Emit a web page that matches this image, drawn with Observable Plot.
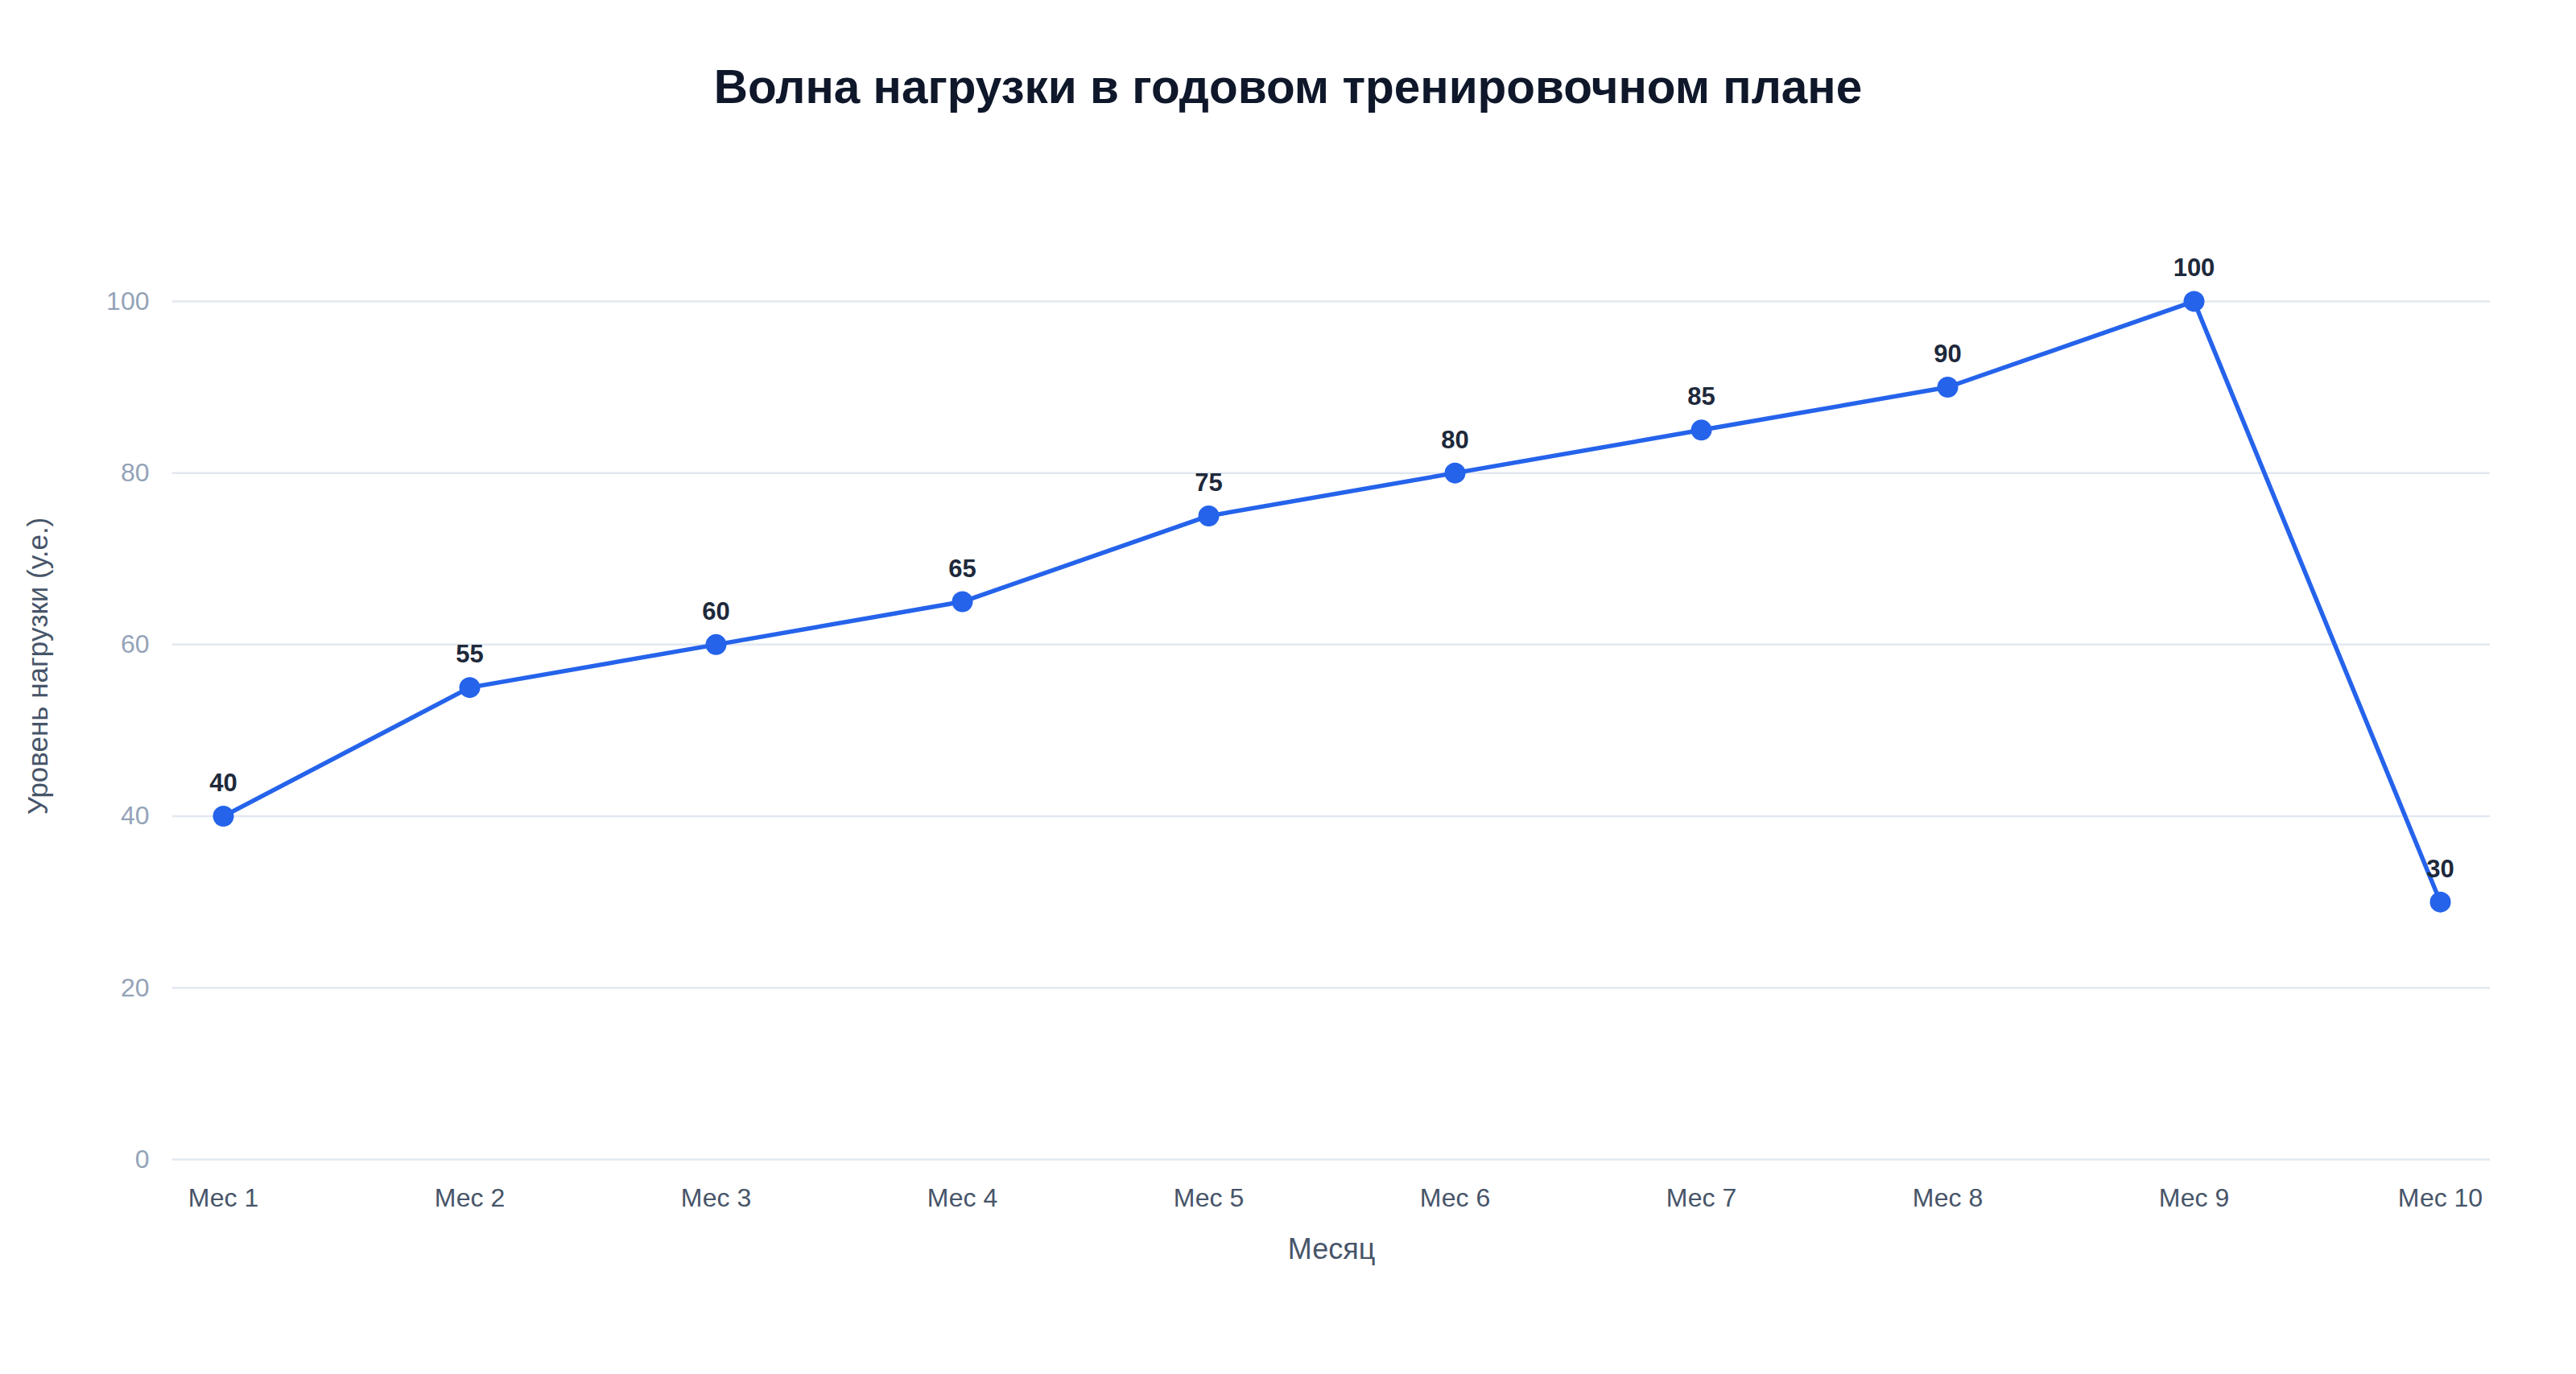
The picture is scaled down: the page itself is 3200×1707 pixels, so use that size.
<!DOCTYPE html>
<html>
<head>
<meta charset="utf-8">
<script src="https://cdn.jsdelivr.net/npm/d3@7"></script>
<script src="https://cdn.jsdelivr.net/npm/@observablehq/plot@0.6"></script>
<style>
  html, body { margin: 0; padding: 0; background: #ffffff; }
  #wrap { position: relative; width: 3200px; height: 1707px; font-family: "Liberation Sans", Arial, Helvetica, sans-serif; }
  #title { position: absolute; left: 0; top: 79px; width: 3200px; text-align: center; font-size: 58.5px; line-height: 58px; font-weight: bold; color: #0f172a; margin: 0; }
  #chart { position: absolute; left: 0; top: 180px; }
</style>
</head>
<body>
<div id="wrap">
  <h1 id="title">Волна нагрузки в годовом тренировочном плане</h1>
  <div id="chart"></div>
</div>
<script>
const months = ["Мес 1", "Мес 2", "Мес 3", "Мес 4", "Мес 5", "Мес 6", "Мес 7", "Мес 8", "Мес 9", "Мес 10"];
const load = [40, 55, 60, 65, 75, 80, 85, 90, 100, 30];
const yTicks = [0, 20, 40, 60, 80, 100];
const xTitle = "Месяц";
const yTitle = "Уровень нагрузки (у.е.)";

const data = months.map((m, i) => ({month: m, value: load[i]}));

const chart = Plot.plot({
  width: 3200,
  height: 1527,
  marginLeft: 214,
  marginRight: 107,
  marginTop: 34,
  marginBottom: 267,
  style: {fontFamily: "'Liberation Sans', Arial, Helvetica, sans-serif", background: "#ffffff"},
  x: {type: "point", domain: months, padding: 0.197},
  y: {domain: [0, 115]},
  marks: [
    Plot.gridY(yTicks, {stroke: "#e2e8f0", strokeWidth: 2.5, strokeOpacity: 1}),
    Plot.axisY(yTicks, {tickSize: 0, tickPadding: 29, fontSize: 32, fill: "#94a3b8", label: null}),
    Plot.axisX({tickSize: 0, tickPadding: 36, fontSize: 32, fill: "#475569", label: null}),
    Plot.text([yTitle], {frameAnchor: "left", textAnchor: "middle", lineAnchor: "bottom", rotate: -90, dx: -156, fontSize: 35, fill: "#475569"}),
    Plot.text([xTitle], {frameAnchor: "bottom", textAnchor: "middle", lineAnchor: "bottom", dy: 123, fontSize: 36, fill: "#475569"}),
    Plot.line(data, {x: "month", y: "value", stroke: "#2563eb", strokeWidth: 5.5}),
    Plot.dot(data, {x: "month", y: "value", r: 13, fill: "#2563eb"}),
    Plot.text(data, {x: "month", y: "value", text: d => String(d.value), lineAnchor: "bottom", dy: -31, fontSize: 31, fontWeight: "bold", fill: "#1e293b"})
  ]
});
document.getElementById("chart").appendChild(chart);
</script>
</body>
</html>
